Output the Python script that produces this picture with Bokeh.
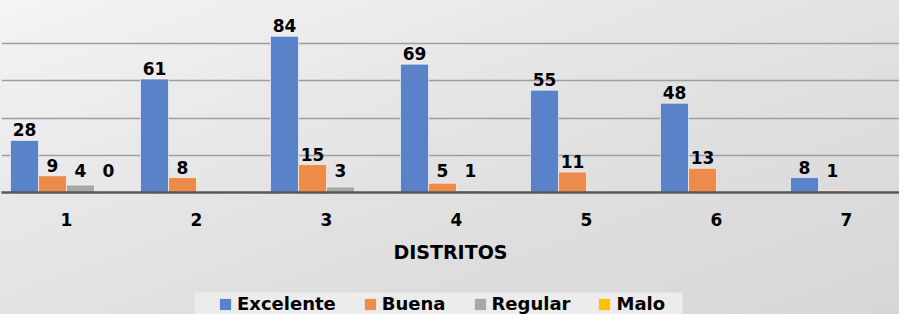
from bokeh.plotting import figure
from bokeh.layouts import column
from bokeh.models import ColumnDataSource, Range1d, FixedTicker, Legend, LegendItem, BoxAnnotation
from bokeh.transform import dodge
from bokeh.core.properties import value
from bokeh.embed import file_html
from bokeh.resources import INLINE

districts = [1, 2, 3, 4, 5, 6, 7]
tick_labels = ["1", "2", "3", "4", "5", "6", "7"]
excelente = [28, 61, 84, 69, 55, 48, 8]
buena = [9, 8, 15, 5, 11, 13, 1]
regular = [4, None, 3, 1, None, None, None]
malo = [0, None, None, None, None, None, None]

series_names = ["Excelente", "Buena", "Regular", "Malo"]
series_vals = [excelente, buena, regular, malo]
colors = ["#5a82c8", "#ec8b4a", "#a8a8a8", "#ffc000"]
offsets = [-0.3231, -0.1077, 0.1077, 0.3231]
BAR_W = 0.2154
SMALL_LABEL_LEVEL = 6  # level at which labels of the minor series sit

FONT = "DejaVu Sans"

p = figure(width=899, height=282, output_backend="svg", toolbar_location=None,
           x_range=Range1d(0.5, 7.4077), y_range=Range1d(0, 100),
           min_border_left=1, min_border_right=0, min_border_top=6, min_border_bottom=90)
p.background_fill_alpha = 0
p.border_fill_alpha = 0
p.outline_line_color = None

for name, vals, col, off in zip(series_names, series_vals, colors, offsets):
    tops = [float("nan") if v is None else v for v in vals]
    labels = ["" if v is None else str(v) for v in vals]
    if name == "Excelente":
        ly = tops
    else:
        ly = [max(t, SMALL_LABEL_LEVEL) if t == t else float("nan") for t in tops]
    src = ColumnDataSource(dict(x=districts, top=tops, lab=labels, ly=ly))
    p.vbar(x=dodge("x", off, range=p.x_range), top="top", width=BAR_W, source=src,
           fill_color=col, line_color="white", line_alpha=0.6, line_width=1)
    p.text(x=dodge("x", off, range=p.x_range), y="ly", text="lab", source=src,
           text_align="center", text_baseline="bottom", y_offset=-4,
           text_font=value(FONT), text_font_style="bold", text_font_size="17px",
           text_color="black")

p.xgrid.grid_line_color = None
p.yaxis.visible = False
p.ygrid.ticker = FixedTicker(ticks=[20, 40, 60, 80, 100])
p.ygrid.grid_line_color = "#9e9e9e"
p.ygrid.grid_line_width = 1.5

p.xaxis.ticker = FixedTicker(ticks=districts)
p.xaxis.major_label_overrides = {d: t for d, t in zip(districts, tick_labels)}
p.xaxis.axis_line_color = "#585858"
p.xaxis.axis_line_width = 2.5
p.xaxis.major_tick_line_color = None
p.xaxis.minor_tick_line_color = None
p.xaxis.major_label_standoff = 14
p.xaxis.major_label_text_font = FONT
p.xaxis.major_label_text_font_style = "bold"
p.xaxis.major_label_text_font_size = "17px"
p.xaxis.major_label_text_color = "black"
p.xaxis.axis_label = "DISTRITOS"
p.xaxis.axis_label_text_font = FONT
p.xaxis.axis_label_text_font_style = "bold"
p.xaxis.axis_label_text_font_size = "19px"
p.xaxis.axis_label_text_color = "black"
p.xaxis.axis_label_standoff = 12

# legend strip below the chart (ranges in pixels)
lp = figure(width=899, height=32, output_backend="svg", toolbar_location=None,
            x_axis_location=None, y_axis_location=None,
            x_range=Range1d(0, 899), y_range=Range1d(0, 32),
            min_border_left=0, min_border_right=0, min_border_top=0, min_border_bottom=0)
lp.background_fill_alpha = 0
lp.border_fill_alpha = 0
lp.outline_line_color = None
lp.xgrid.visible = False
lp.ygrid.visible = False
lp.add_layout(BoxAnnotation(left=193, right=682, bottom=0, top=22,
                            fill_color="#ececec", fill_alpha=1, line_color=None))
items = []
for name, col in zip(series_names, colors):
    # proxy renderer kept outside the visible range; only its legend swatch shows
    r = lp.vbar(x=[-50], top=[-50], bottom=[-60], width=5, fill_color=col, line_color=None)
    items.append(LegendItem(label=name, renderers=[r]))
legend = Legend(items=items, orientation="horizontal", location=(217, 0),
                background_fill_alpha=0, border_line_color=None,
                padding=2, spacing=27, margin=0,
                glyph_width=14, glyph_height=14, label_standoff=5,
                label_text_font=FONT, label_text_font_style="bold",
                label_text_font_size="18px", label_text_color="black")
lp.add_layout(legend, "center")

layout = column(p, lp, spacing=0,
                styles={"background-image": "linear-gradient(160deg, #f4f4f4 0%, #e2e2e2 50%, #d6d6d6 100%)"})

open("out.html", "w").write(file_html(layout, INLINE))
